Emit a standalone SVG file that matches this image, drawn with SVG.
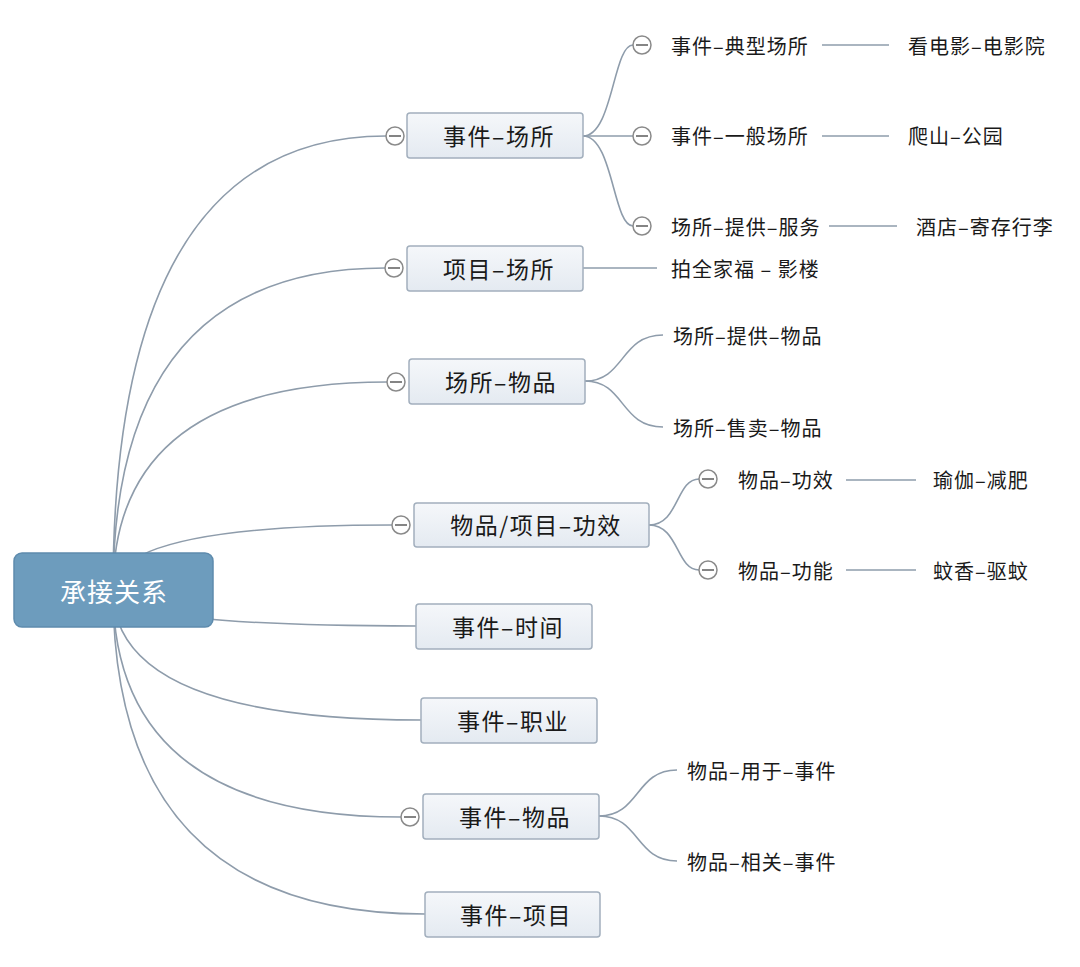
<svg xmlns="http://www.w3.org/2000/svg" width="1080" height="967" viewBox="0 0 1080 967">
<defs>
<linearGradient id="nodeGrad" x1="0" y1="0" x2="0" y2="1">
<stop offset="0" stop-color="#f5f7fa"/>
<stop offset="1" stop-color="#e4eaf1"/>
</linearGradient>
<style>
.conn{fill:none;stroke:#8e9cab;stroke-width:1.6}
.node rect{fill:url(#nodeGrad);stroke:#a2afbd;stroke-width:1.5}
.main{font-family:"Noto Sans CJK SC","Noto Sans",sans-serif;font-size:23px;letter-spacing:1.5px;fill:#1a1a1a;text-anchor:middle;dominant-baseline:central}
.leaf{font-family:"Noto Sans CJK SC","Noto Sans",sans-serif;font-size:20px;letter-spacing:1px;fill:#1a1a1a;dominant-baseline:central}
.fold circle{fill:#fff;stroke:#8a8a8a;stroke-width:1.5}
.fold line{stroke:#666;stroke-width:1.6}
</style>
</defs>
<rect width="1080" height="967" fill="#ffffff"/>

<g id="connectors">
<path class="conn" d="M113,590 Q113,136 386,136"/>
<path class="conn" d="M113,590 Q113,268 385,268"/>
<path class="conn" d="M113,590 Q113,382 387,382"/>
<path class="conn" d="M113,590 Q113,525 392,525"/>
<path class="conn" d="M113,590 Q113,626 416,626"/>
<path class="conn" d="M113,590 Q113,720 421,720"/>
<path class="conn" d="M113,590 Q113,817 401,817"/>
<path class="conn" d="M113,590 Q113,914 425,914"/>
<path class="conn" d="M583,136 C613,136 613,45 633,45"/>
<path class="conn" d="M583,136 L633,136"/>
<path class="conn" d="M583,136 C613,136 613,226 633,226"/>
<path class="conn" d="M583,268 L657,268"/>
<path class="conn" d="M585,381 C625,381 620,335 663,335"/>
<path class="conn" d="M585,381 C625,381 620,427 663,427"/>
<path class="conn" d="M649,525 C679,525 676,479 699,479"/>
<path class="conn" d="M649,525 C679,525 676,570 699,570"/>
<path class="conn" d="M599,816 C640,816 635,770 677,770"/>
<path class="conn" d="M599,816 C640,816 635,861 677,861"/>
<path class="conn" d="M822,45 L889,45"/>
<path class="conn" d="M822,136 L889,136"/>
<path class="conn" d="M829,226 L897,226"/>
<path class="conn" d="M846,480 L916,480"/>
<path class="conn" d="M846,570 L916,570"/>
</g>

<g id="root">
<rect x="14" y="553" width="199" height="74" rx="8" fill="#6d9cbd" stroke="#5e8bad" stroke-width="1.5"/>
<text x="114" y="590" font-family="Noto Sans CJK SC,sans-serif" font-size="26" letter-spacing="1" fill="#ffffff" text-anchor="middle" dominant-baseline="central">承接关系</text>
</g>

<g id="n1" class="node">
<rect x="407" y="113" width="176" height="45" rx="3"/>
<text class="main" x="499" y="135">事件–场所</text>
<g class="fold"><circle cx="395" cy="136" r="9"/><line x1="389" y1="136" x2="401" y2="136"/></g>
</g>
<g id="n2" class="node">
<rect x="407" y="246" width="176" height="45" rx="3"/>
<text class="main" x="499" y="268">项目–场所</text>
<g class="fold"><circle cx="394" cy="268" r="9"/><line x1="388" y1="268" x2="400" y2="268"/></g>
</g>
<g id="n3" class="node">
<rect x="409" y="359" width="176" height="45" rx="3"/>
<text class="main" x="501" y="381">场所–物品</text>
<g class="fold"><circle cx="396" cy="382" r="9"/><line x1="390" y1="382" x2="402" y2="382"/></g>
</g>
<g id="n4" class="node">
<rect x="414" y="503" width="235" height="44" rx="3"/>
<text class="main" x="536" y="524">物品/项目–功效</text>
<g class="fold"><circle cx="401" cy="525" r="9"/><line x1="395" y1="525" x2="407" y2="525"/></g>
</g>
<g id="n5" class="node">
<rect x="416" y="604" width="176" height="45" rx="3"/>
<text class="main" x="508" y="626">事件–时间</text>
</g>
<g id="n6" class="node">
<rect x="421" y="698" width="176" height="45" rx="3"/>
<text class="main" x="513" y="720">事件–职业</text>
</g>
<g id="n7" class="node">
<rect x="423" y="794" width="176" height="45" rx="3"/>
<text class="main" x="515" y="816">事件–物品</text>
<g class="fold"><circle cx="410" cy="817" r="9"/><line x1="404" y1="817" x2="416" y2="817"/></g>
</g>
<g id="n8" class="node">
<rect x="425" y="892" width="175" height="45" rx="3"/>
<text class="main" x="516" y="914">事件–项目</text>
</g>

<g id="c1">
<g class="fold"><circle cx="642" cy="45" r="9"/><line x1="636" y1="45" x2="648" y2="45"/></g>
<text class="leaf" x="671" y="45">事件–典型场所</text>
</g>
<g id="c1a"><text class="leaf" x="908" y="45">看电影–电影院</text></g>
<g id="c2">
<g class="fold"><circle cx="642" cy="136" r="9"/><line x1="636" y1="136" x2="648" y2="136"/></g>
<text class="leaf" x="671" y="135">事件–一般场所</text>
</g>
<g id="c2a"><text class="leaf" x="908" y="135">爬山–公园</text></g>
<g id="c3">
<g class="fold"><circle cx="642" cy="226" r="9"/><line x1="636" y1="226" x2="648" y2="226"/></g>
<text class="leaf" x="671" y="226">场所–提供–服务</text>
</g>
<g id="c3a"><text class="leaf" x="916" y="226">酒店–寄存行李</text></g>
<g id="c4"><text class="leaf" x="671" y="268">拍全家福 – 影楼</text></g>
<g id="c5"><text class="leaf" x="673" y="335">场所–提供–物品</text></g>
<g id="c6"><text class="leaf" x="673" y="427">场所–售卖–物品</text></g>
<g id="c7">
<g class="fold"><circle cx="708" cy="479" r="9"/><line x1="702" y1="479" x2="714" y2="479"/></g>
<text class="leaf" x="738" y="479">物品–功效</text>
</g>
<g id="c7a"><text class="leaf" x="933" y="479">瑜伽–减肥</text></g>
<g id="c8">
<g class="fold"><circle cx="708" cy="570" r="9"/><line x1="702" y1="570" x2="714" y2="570"/></g>
<text class="leaf" x="738" y="570">物品–功能</text>
</g>
<g id="c8a"><text class="leaf" x="933" y="570">蚊香–驱蚊</text></g>
<g id="c9"><text class="leaf" x="687" y="770">物品–用于–事件</text></g>
<g id="c10"><text class="leaf" x="687" y="861">物品–相关–事件</text></g>
</svg>
